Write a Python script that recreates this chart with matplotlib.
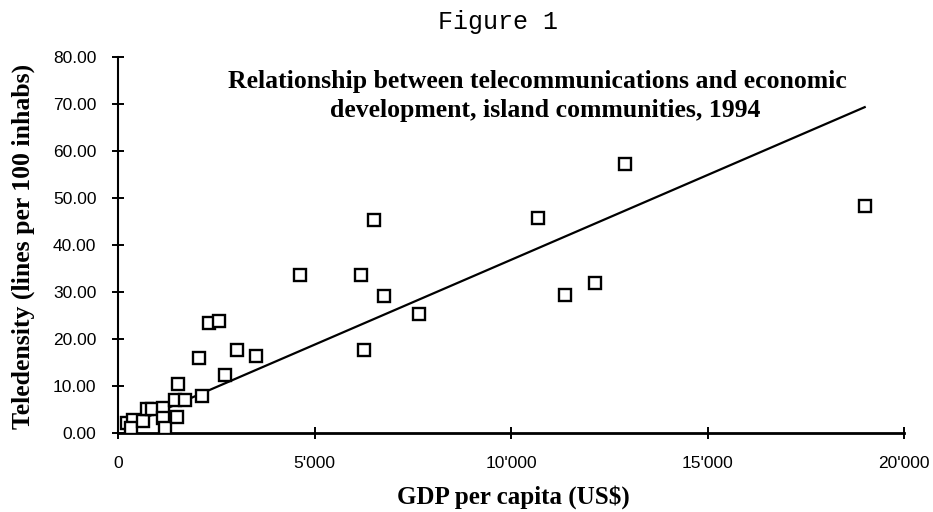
import numpy as np
import matplotlib
matplotlib.use("Agg")
import matplotlib.pyplot as plt
from matplotlib.ticker import FuncFormatter

# data
gdp_per_capita = [220, 390, 330, 640, 730, 860, 1150, 1150, 1190, 1490,
                  1450, 1710, 1535, 2130, 2060, 2320, 2580, 2720, 3020, 3510,
                  4630, 6180, 6270, 6520, 6780, 7650, 10680, 11380, 12130,
                  12900, 19000]
teledensity = [2.2, 2.8, 1.0, 2.6, 5.1, 5.1, 5.3, 3.1, 1.1, 3.4,
               7.0, 7.0, 10.4, 7.9, 15.9, 23.5, 23.9, 12.3, 17.7, 16.4,
               33.6, 33.6, 17.6, 45.3, 29.2, 25.3, 45.7, 29.3, 32.0,
               57.2, 48.3]
# linear trend line (slope, intercept) as shown on the chart
trend_coef = [0.00361, 0.74]

x_ticks = [0, 5000, 10000, 15000, 20000]
y_ticks = [0, 10, 20, 30, 40, 50, 60, 70, 80]

title_lines = ["Relationship between telecommunications and economic",
               "development, island communities, 1994"]

fig = plt.figure(figsize=(9.33, 5.12), dpi=100)
W, H = 933.0, 512.0
ax = fig.add_axes([118 / W, 79 / H, 786 / W, 376 / H])

ax.plot(gdp_per_capita, teledensity, linestyle="none", marker="s",
        markersize=8, markerfacecolor="white", markeredgecolor="black",
        markeredgewidth=1.7, zorder=3)

tx = np.array([min(gdp_per_capita), max(gdp_per_capita)])
ax.plot(tx, np.polyval(trend_coef, tx), color="black", linewidth=1.6, zorder=2)

ax.set_xlim(0, 20000)
ax.set_ylim(0, 80)
ax.set_xticks(x_ticks)
ax.set_yticks(y_ticks)
ax.xaxis.set_major_formatter(FuncFormatter(lambda v, p: "{:,.0f}".format(v).replace(",", "'")))
ax.yaxis.set_major_formatter(FuncFormatter(lambda v, p: "%.2f" % v))

for s in ["top", "right"]:
    ax.spines[s].set_visible(False)
ax.spines["left"].set_linewidth(1.5)
ax.spines["bottom"].set_linewidth(2.0)
for s in ["left", "bottom"]:
    ax.spines[s].set_clip_on(False)

ax.tick_params(direction="inout", length=9, width=1.4, labelsize=12.5)
ax.tick_params(axis="y", pad=11)
ax.tick_params(axis="x", pad=12)
for lab in ax.get_xticklabels() + ax.get_yticklabels():
    lab.set_fontfamily("Liberation Sans")

# texts
fig.text(498 / W, 1 - 22 / H, "Figure 1", family="Liberation Mono",
         fontsize=18, ha="center", va="center")
fig.text(537 / W, 1 - 88 / H, title_lines[0], family="Liberation Serif",
         fontweight="bold", fontsize=18.5, ha="center", va="baseline")
fig.text(545 / W, 1 - 117 / H, title_lines[1], family="Liberation Serif",
         fontweight="bold", fontsize=18.5, ha="center", va="baseline")
fig.text(513 / W, 1 - 497 / H, "GDP per capita (US$)", family="Liberation Serif",
         fontweight="bold", fontsize=18, ha="center", va="center")
fig.text(23 / W, 1 - 246 / H, "Teledensity (lines per 100 inhabs)",
         family="Liberation Serif", fontweight="bold", fontsize=18.5,
         ha="center", va="center", rotation=90)

fig.savefig("out.png", dpi=100)
